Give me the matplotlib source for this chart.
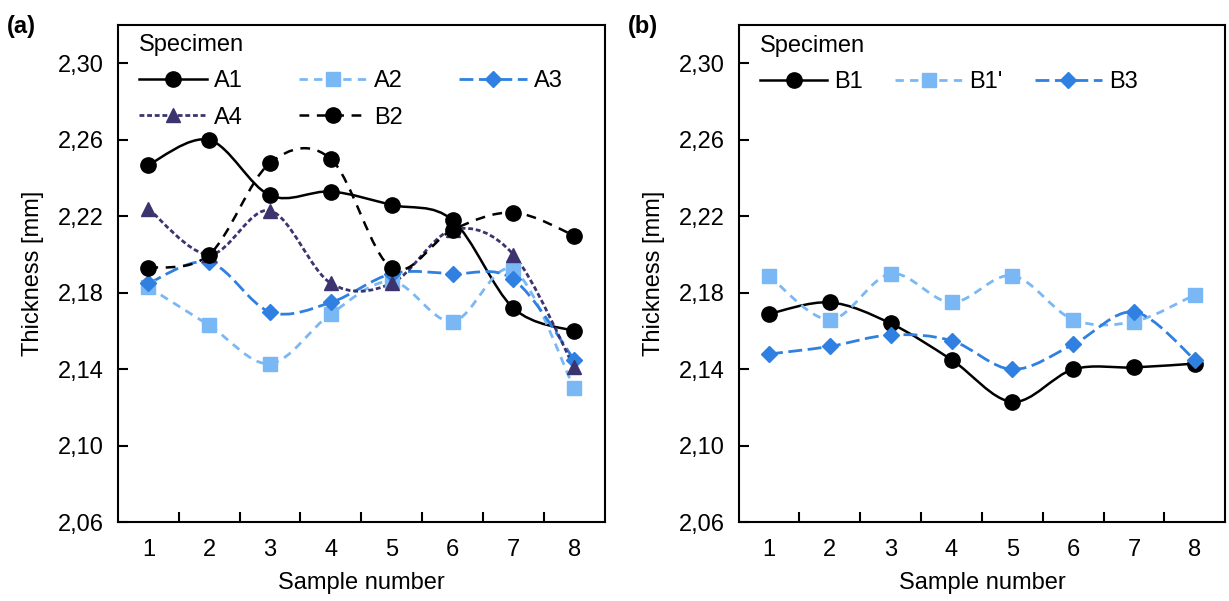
import matplotlib
matplotlib.use('Agg')
import matplotlib.pyplot as plt
from matplotlib.path import Path
from matplotlib.patches import PathPatch
from matplotlib.lines import Line2D

plt.rcParams['font.family'] = ['Liberation Sans', 'DejaVu Sans']
plt.rcParams['lines.scale_dashes'] = False

# данные
samples = [1, 2, 3, 4, 5, 6, 7, 8]

A1 = [2.247, 2.260, 2.231, 2.233, 2.226, 2.218, 2.172, 2.160]
A2 = [2.183, 2.163, 2.143, 2.169, 2.186, 2.165, 2.192, 2.130]
A3 = [2.185, 2.196, 2.170, 2.175, 2.190, 2.190, 2.187, 2.145]
A4 = [2.224, 2.200, 2.223, 2.185, 2.185, 2.213, 2.200, 2.141]
B2 = [2.193, 2.200, 2.248, 2.250, 2.193, 2.213, 2.222, 2.210]

B1 = [2.169, 2.175, 2.164, 2.145, 2.123, 2.140, 2.141, 2.143]
B1s = [2.189, 2.166, 2.190, 2.175, 2.189, 2.166, 2.165, 2.179]
B3 = [2.148, 2.152, 2.158, 2.155, 2.140, 2.153, 2.170, 2.145]

yticks = [2.06, 2.10, 2.14, 2.18, 2.22, 2.26, 2.30]
ytick_labels = ['2,06', '2,10', '2,14', '2,18', '2,22', '2,26', '2,30']

FS = 17


def smooth_path(xs, ys):
    '''
    Сглаженная линия как в Excel (кривые Безье)
    '''
    pts = list(zip(xs, ys))
    n = len(pts)
    verts = [pts[0]]
    codes = [Path.MOVETO]
    for i in range(n - 1):
        p0 = pts[i - 1] if i > 0 else pts[i]
        p1 = pts[i]
        p2 = pts[i + 1]
        p3 = pts[i + 2] if i + 2 < n else pts[i + 1]
        c1 = (p1[0] + (p2[0] - p0[0]) / 6, p1[1] + (p2[1] - p0[1]) / 6)
        c2 = (p2[0] - (p3[0] - p1[0]) / 6, p2[1] - (p3[1] - p1[1]) / 6)
        verts += [c1, c2, p2]
        codes += [Path.CURVE4] * 3
    return Path(verts, codes)


def draw_series(ax, ys, label, color, ls, lw, marker, ms):
    ax.add_patch(PathPatch(smooth_path(samples, ys), fill=False,
                           edgecolor=color, lw=lw, linestyle=ls,
                           capstyle='butt'))
    ax.plot(samples, ys, linestyle='none', marker=marker, ms=ms,
            color=color, mec=color)
    return Line2D([], [], color=color, lw=lw, linestyle=ls,
                  marker=marker, ms=ms, mec=color, label=label)


def setup_axes(ax):
    ax.set_xlim(0.5, 8.5)
    ax.set_ylim(2.06, 2.32)
    ax.set_yticks(yticks, labels=ytick_labels)
    ax.set_xticks(samples)
    ax.set_xticks([1.5, 2.5, 3.5, 4.5, 5.5, 6.5, 7.5], minor=True)
    ax.tick_params(axis='x', which='major', length=0, pad=12, labelsize=FS)
    ax.tick_params(axis='x', which='minor', direction='in', length=7,
                   width=1.5)
    ax.tick_params(axis='y', direction='in', length=7, width=1.5, pad=10,
                   labelsize=FS)
    for sp in ax.spines.values():
        sp.set_linewidth(1.5)
    ax.set_xlabel('Sample number', fontsize=FS, labelpad=8)
    ax.set_ylabel('Thickness [mm]', fontsize=FS, labelpad=10)


fig = plt.figure(figsize=(12.29, 6.01), dpi=100)
ax1 = fig.add_axes([0.096, 0.131, 0.396, 0.827])
ax2 = fig.add_axes([0.601, 0.131, 0.396, 0.827])

light = '#7ab8f5'
mid = '#2f80e0'
dark = '#3b346e'

h_A1 = draw_series(ax1, A1, 'A1', 'black', '-', 1.8, 'o', 11)
h_A2 = draw_series(ax1, A2, 'A2', light, (0, (6, 4.5)), 2.0, 's', 10)
h_A3 = draw_series(ax1, A3, 'A3', mid, (0, (10, 4)), 2.0, 'D', 8)
h_A4 = draw_series(ax1, A4, 'A4', dark, (0, (3.5, 2)), 2.0, '^', 10)
h_B2 = draw_series(ax1, B2, 'B2', 'black', (0, (7, 5.5)), 1.8, 'o', 11)
setup_axes(ax1)
# порядок для заполнения по строкам
ax1.legend(handles=[h_A1, h_A4, h_A2, h_B2, h_A3], ncol=3, loc='upper left',
           bbox_to_anchor=(0.01, 1.015),
           title='Specimen', title_fontsize=FS, fontsize=FS,
           alignment='left', frameon=False, handlelength=2.85,
           handletextpad=0.3, columnspacing=2.4, labelspacing=0.6,
           borderaxespad=0.3, borderpad=0.4)

h_B1 = draw_series(ax2, B1, 'B1', 'black', '-', 1.8, 'o', 11)
h_B1s = draw_series(ax2, B1s, "B1'", light, (0, (6, 4.5)), 2.0, 's', 10)
h_B3 = draw_series(ax2, B3, 'B3', mid, (0, (10, 4)), 2.0, 'D', 8)
setup_axes(ax2)
ax2.legend(handles=[h_B1, h_B1s, h_B3], ncol=3, loc='upper left',
           bbox_to_anchor=(-0.007, 1.031),
           title='Specimen', title_fontsize=FS, fontsize=FS,
           alignment='left', frameon=False, handlelength=2.85,
           handletextpad=0.3, columnspacing=1.35, labelspacing=0.6,
           borderaxespad=0.3, borderpad=0.75)

fig.text(0.006, 0.975, '(a)', fontsize=FS, fontweight='bold', va='top')
fig.text(0.511, 0.975, '(b)', fontsize=FS, fontweight='bold', va='top')

fig.savefig('out.png', dpi=100)
